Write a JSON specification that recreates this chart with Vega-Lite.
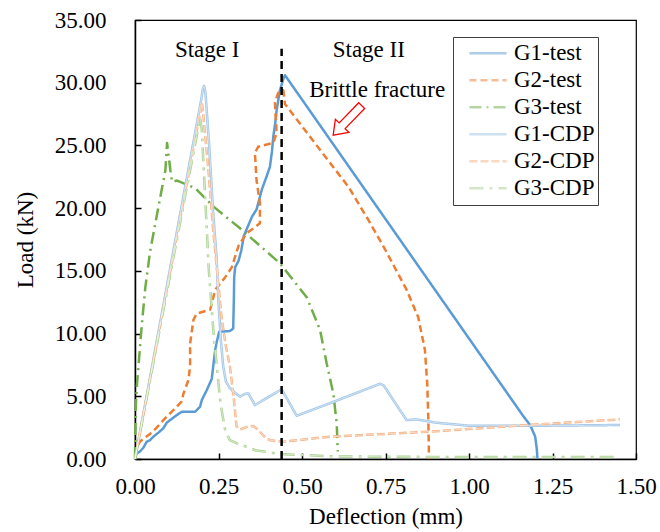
{
 "$schema": "https://vega.github.io/schema/vega-lite/v6.json",
 "width": 501, "height": 439,
 "autosize": {"type": "none"},
 "padding": {"left": 135, "top": 20, "right": 24, "bottom": 73},
 "background": "white",
 "config": {
  "font": "Liberation Serif",
  "view": {"stroke": "#000000", "strokeWidth": 1.2},
  "axis": {"labelFont": "Liberation Serif", "labelFontSize": 23, "labelColor": "#000000", "titleFont": "Liberation Serif", "titleFontSize": 23, "titleFontWeight": "normal", "titleColor": "#000000", "grid": false, "domainColor": "#000000", "domainWidth": 1.5, "tickColor": "#000000", "tickWidth": 1.5, "labelOverlap": false, "labelFlush": false},
  "legend": {"labelFont": "Liberation Serif", "labelFontSize": 23, "labelColor": "#000000", "symbolStrokeWidth": 2.5}
 },
 "datasets": {
  "curves": [
   {"s":"G1-test","i":0,"x":0,"y":0},{"s":"G1-test","i":1,"x":0.005,"y":0.45},{"s":"G1-test","i":2,"x":0.015,"y":0.6},{"s":"G1-test","i":3,"x":0.025,"y":0.9},{"s":"G1-test","i":4,"x":0.035,"y":1.38},{"s":"G1-test","i":5,"x":0.045,"y":1.5},{"s":"G1-test","i":6,"x":0.055,"y":1.78},{"s":"G1-test","i":7,"x":0.07,"y":2.1},{"s":"G1-test","i":8,"x":0.085,"y":2.45},{"s":"G1-test","i":9,"x":0.095,"y":2.9},{"s":"G1-test","i":10,"x":0.105,"y":3.1},{"s":"G1-test","i":11,"x":0.115,"y":3.3},{"s":"G1-test","i":12,"x":0.125,"y":3.5},{"s":"G1-test","i":13,"x":0.14,"y":3.77},{"s":"G1-test","i":14,"x":0.18,"y":3.77},{"s":"G1-test","i":15,"x":0.195,"y":4.17},{"s":"G1-test","i":16,"x":0.2,"y":4.7},{"s":"G1-test","i":17,"x":0.215,"y":5.5},{"s":"G1-test","i":18,"x":0.23,"y":6.4},{"s":"G1-test","i":19,"x":0.234,"y":7.36},{"s":"G1-test","i":20,"x":0.24,"y":8.7},{"s":"G1-test","i":21,"x":0.245,"y":9.35},{"s":"G1-test","i":22,"x":0.252,"y":10.15},{"s":"G1-test","i":23,"x":0.284,"y":10.2},{"s":"G1-test","i":24,"x":0.294,"y":10.4},{"s":"G1-test","i":25,"x":0.296,"y":12.7},{"s":"G1-test","i":26,"x":0.297,"y":14.5},{"s":"G1-test","i":27,"x":0.3,"y":15.3},{"s":"G1-test","i":28,"x":0.31,"y":15.8},{"s":"G1-test","i":29,"x":0.318,"y":16.6},{"s":"G1-test","i":30,"x":0.326,"y":17.8},{"s":"G1-test","i":31,"x":0.334,"y":18.3},{"s":"G1-test","i":32,"x":0.35,"y":19.3},{"s":"G1-test","i":33,"x":0.364,"y":19.9},{"s":"G1-test","i":34,"x":0.38,"y":21.5},{"s":"G1-test","i":35,"x":0.395,"y":22.6},{"s":"G1-test","i":36,"x":0.404,"y":23.3},{"s":"G1-test","i":37,"x":0.41,"y":24.5},{"s":"G1-test","i":38,"x":0.414,"y":25.7},{"s":"G1-test","i":39,"x":0.42,"y":26.8},{"s":"G1-test","i":40,"x":0.424,"y":27.8},{"s":"G1-test","i":41,"x":0.434,"y":29.4},{"s":"G1-test","i":42,"x":0.444,"y":30.3},{"s":"G1-test","i":43,"x":0.449,"y":30.6},{"s":"G1-test","i":44,"x":1.163,"y":3.4},{"s":"G1-test","i":45,"x":1.183,"y":2.7},{"s":"G1-test","i":46,"x":1.198,"y":1.8},{"s":"G1-test","i":47,"x":1.203,"y":0.8},{"s":"G1-test","i":48,"x":1.205,"y":0},
   {"s":"G2-test","i":0,"x":0,"y":0.3},{"s":"G2-test","i":1,"x":0.005,"y":0.9},{"s":"G2-test","i":2,"x":0.015,"y":1.4},{"s":"G2-test","i":3,"x":0.03,"y":1.7},{"s":"G2-test","i":4,"x":0.045,"y":2.0},{"s":"G2-test","i":5,"x":0.065,"y":2.5},{"s":"G2-test","i":6,"x":0.085,"y":3.1},{"s":"G2-test","i":7,"x":0.1,"y":3.5},{"s":"G2-test","i":8,"x":0.115,"y":3.9},{"s":"G2-test","i":9,"x":0.14,"y":4.6},{"s":"G2-test","i":10,"x":0.145,"y":5.2},{"s":"G2-test","i":11,"x":0.16,"y":6.3},{"s":"G2-test","i":12,"x":0.165,"y":7.4},{"s":"G2-test","i":13,"x":0.165,"y":9.2},{"s":"G2-test","i":14,"x":0.175,"y":11.1},{"s":"G2-test","i":15,"x":0.185,"y":11.6},{"s":"G2-test","i":16,"x":0.225,"y":11.9},{"s":"G2-test","i":17,"x":0.23,"y":12.4},{"s":"G2-test","i":18,"x":0.24,"y":13.5},{"s":"G2-test","i":19,"x":0.256,"y":14.0},{"s":"G2-test","i":20,"x":0.27,"y":14.5},{"s":"G2-test","i":21,"x":0.29,"y":15.3},{"s":"G2-test","i":22,"x":0.31,"y":17.0},{"s":"G2-test","i":23,"x":0.334,"y":18.0},{"s":"G2-test","i":24,"x":0.36,"y":18.5},{"s":"G2-test","i":25,"x":0.374,"y":18.8},{"s":"G2-test","i":26,"x":0.374,"y":20.4},{"s":"G2-test","i":27,"x":0.364,"y":22.2},{"s":"G2-test","i":28,"x":0.359,"y":24.4},{"s":"G2-test","i":29,"x":0.369,"y":24.9},{"s":"G2-test","i":30,"x":0.414,"y":25.2},{"s":"G2-test","i":31,"x":0.424,"y":26.0},{"s":"G2-test","i":32,"x":0.419,"y":28.4},{"s":"G2-test","i":33,"x":0.429,"y":29.2},{"s":"G2-test","i":34,"x":0.444,"y":29.4},{"s":"G2-test","i":35,"x":0.449,"y":28.3},{"s":"G2-test","i":36,"x":0.639,"y":21.7},{"s":"G2-test","i":37,"x":0.7,"y":19.0},{"s":"G2-test","i":38,"x":0.749,"y":16.7},{"s":"G2-test","i":39,"x":0.813,"y":13.5},{"s":"G2-test","i":40,"x":0.848,"y":11.3},{"s":"G2-test","i":41,"x":0.868,"y":8.7},{"s":"G2-test","i":42,"x":0.875,"y":6.0},{"s":"G2-test","i":43,"x":0.878,"y":3.4},{"s":"G2-test","i":44,"x":0.88,"y":0.45},{"s":"G2-test","i":45,"x":0.882,"y":0},
   {"s":"G3-test","i":0,"x":0,"y":0},{"s":"G3-test","i":1,"x":0.002,"y":4.0},{"s":"G3-test","i":2,"x":0.006,"y":6.0},{"s":"G3-test","i":3,"x":0.011,"y":7.6},{"s":"G3-test","i":4,"x":0.02,"y":10.6},{"s":"G3-test","i":5,"x":0.031,"y":13.7},{"s":"G3-test","i":6,"x":0.045,"y":16.5},{"s":"G3-test","i":7,"x":0.061,"y":18.8},{"s":"G3-test","i":8,"x":0.078,"y":21.2},{"s":"G3-test","i":9,"x":0.091,"y":23.0},{"s":"G3-test","i":10,"x":0.096,"y":25.2},{"s":"G3-test","i":11,"x":0.101,"y":24.1},{"s":"G3-test","i":12,"x":0.106,"y":23.0},{"s":"G3-test","i":13,"x":0.111,"y":22.1},{"s":"G3-test","i":14,"x":0.126,"y":22.2},{"s":"G3-test","i":15,"x":0.18,"y":21.6},{"s":"G3-test","i":16,"x":0.236,"y":20.1},{"s":"G3-test","i":17,"x":0.284,"y":19.05},{"s":"G3-test","i":18,"x":0.31,"y":18.5},{"s":"G3-test","i":19,"x":0.434,"y":15.6},{"s":"G3-test","i":20,"x":0.514,"y":12.9},{"s":"G3-test","i":21,"x":0.554,"y":10.3},{"s":"G3-test","i":22,"x":0.574,"y":7.6},{"s":"G3-test","i":23,"x":0.594,"y":5.2},{"s":"G3-test","i":24,"x":0.604,"y":2.8},{"s":"G3-test","i":25,"x":0.607,"y":0.6},
   {"s":"G1-CDP","i":0,"x":0,"y":0},{"s":"G1-CDP","i":1,"x":0.198,"y":28.6},{"s":"G1-CDP","i":2,"x":0.203,"y":29.5},{"s":"G1-CDP","i":3,"x":0.207,"y":29.75},{"s":"G1-CDP","i":4,"x":0.211,"y":29.2},{"s":"G1-CDP","i":5,"x":0.222,"y":25.0},{"s":"G1-CDP","i":6,"x":0.2335,"y":19.8},{"s":"G1-CDP","i":7,"x":0.2445,"y":16.0},{"s":"G1-CDP","i":8,"x":0.2495,"y":12.7},{"s":"G1-CDP","i":9,"x":0.257,"y":9.5},{"s":"G1-CDP","i":10,"x":0.264,"y":7.4},{"s":"G1-CDP","i":11,"x":0.272,"y":6.2},{"s":"G1-CDP","i":12,"x":0.284,"y":5.64},{"s":"G1-CDP","i":13,"x":0.314,"y":4.97},{"s":"G1-CDP","i":14,"x":0.33,"y":5.2},{"s":"G1-CDP","i":15,"x":0.339,"y":5.25},{"s":"G1-CDP","i":16,"x":0.359,"y":4.3},{"s":"G1-CDP","i":17,"x":0.439,"y":5.56},{"s":"G1-CDP","i":18,"x":0.484,"y":3.45},{"s":"G1-CDP","i":19,"x":0.584,"y":4.45},{"s":"G1-CDP","i":20,"x":0.734,"y":6.0},{"s":"G1-CDP","i":21,"x":0.745,"y":5.85},{"s":"G1-CDP","i":22,"x":0.813,"y":3.1},{"s":"G1-CDP","i":23,"x":0.843,"y":3.16},{"s":"G1-CDP","i":24,"x":0.9,"y":2.9},{"s":"G1-CDP","i":25,"x":1.0,"y":2.65},{"s":"G1-CDP","i":26,"x":1.2,"y":2.65},{"s":"G1-CDP","i":27,"x":1.452,"y":2.71},
   {"s":"G2-CDP","i":0,"x":0,"y":0},{"s":"G2-CDP","i":1,"x":0.2006,"y":28.4},{"s":"G2-CDP","i":2,"x":0.205,"y":27.3},{"s":"G2-CDP","i":3,"x":0.22,"y":23.0},{"s":"G2-CDP","i":4,"x":0.235,"y":18.0},{"s":"G2-CDP","i":5,"x":0.255,"y":12.4},{"s":"G2-CDP","i":6,"x":0.26,"y":11.1},{"s":"G2-CDP","i":7,"x":0.272,"y":9.0},{"s":"G2-CDP","i":8,"x":0.284,"y":7.4},{"s":"G2-CDP","i":9,"x":0.295,"y":5.0},{"s":"G2-CDP","i":10,"x":0.304,"y":2.6},{"s":"G2-CDP","i":11,"x":0.315,"y":2.35},{"s":"G2-CDP","i":12,"x":0.34,"y":2.6},{"s":"G2-CDP","i":13,"x":0.354,"y":2.63},{"s":"G2-CDP","i":14,"x":0.37,"y":2.3},{"s":"G2-CDP","i":15,"x":0.39,"y":1.7},{"s":"G2-CDP","i":16,"x":0.404,"y":1.5},{"s":"G2-CDP","i":17,"x":0.444,"y":1.38},{"s":"G2-CDP","i":18,"x":0.584,"y":1.78},{"s":"G2-CDP","i":19,"x":0.883,"y":2.18},{"s":"G2-CDP","i":20,"x":1.0,"y":2.4},{"s":"G2-CDP","i":21,"x":1.2,"y":2.75},{"s":"G2-CDP","i":22,"x":1.452,"y":3.16},
   {"s":"G3-CDP","i":0,"x":0,"y":0},{"s":"G3-CDP","i":1,"x":0.195,"y":27.2},{"s":"G3-CDP","i":2,"x":0.2,"y":26.3},{"s":"G3-CDP","i":3,"x":0.206,"y":23.0},{"s":"G3-CDP","i":4,"x":0.221,"y":15.1},{"s":"G3-CDP","i":5,"x":0.236,"y":9.75},{"s":"G3-CDP","i":6,"x":0.256,"y":4.4},{"s":"G3-CDP","i":7,"x":0.27,"y":2.3},{"s":"G3-CDP","i":8,"x":0.284,"y":1.5},{"s":"G3-CDP","i":9,"x":0.31,"y":1.2},{"s":"G3-CDP","i":10,"x":0.334,"y":0.98},{"s":"G3-CDP","i":11,"x":0.36,"y":0.7},{"s":"G3-CDP","i":12,"x":0.434,"y":0.4},{"s":"G3-CDP","i":13,"x":0.6,"y":0.2},{"s":"G3-CDP","i":14,"x":1.0,"y":0.15},{"s":"G3-CDP","i":15,"x":1.45,"y":0.15}
  ],
  "notes": [
   {"t":"Stage I","x":0.216,"y":32.6},
   {"t":"Stage II","x":0.700,"y":32.6},
   {"t":"Brittle fracture","x":0.725,"y":29.4}
  ],
  "stage": [{"x":0.439,"y":0,"y2":32.7}],
  "arrow": [{"x":0.636,"y":27.0}]
 },
 "layer": [
  {
   "data": {"name": "curves"},
   "mark": {"type": "line", "strokeJoin": "round", "strokeCap": "butt"},
   "encoding": {
    "x": {"field": "x", "type": "quantitative", "scale": {"domain": [0, 1.5], "nice": false, "zero": false},
          "axis": {"title": "Deflection (mm)", "values": [0, 0.25, 0.5, 0.75, 1, 1.25, 1.5], "format": ".2f", "tickSize": -6, "labelPadding": 22, "titlePadding": 7}},
    "y": {"field": "y", "type": "quantitative", "scale": {"domain": [0, 35], "nice": false},
          "axis": {"title": "Load (kN)", "values": [0, 2.5, 5, 7.5, 10, 12.5, 15, 17.5, 20, 22.5, 25, 27.5, 30, 32.5, 35], "labelExpr": "datum.value % 5 === 0 ? format(datum.value, '.2f') : ''", "tickSize": -6, "labelPadding": 35, "titlePadding": 17}},
    "order": {"field": "i", "type": "quantitative"},
    "color": {"field": "s", "type": "nominal",
              "scale": {"domain": ["G1-test", "G2-test", "G3-test", "G1-CDP", "G2-CDP", "G3-CDP"], "range": ["#5B9BD5", "#ED7D31", "#70AD47", "#9DC3E6", "#F4B183", "#A9D18E"]},
              "legend": {"title": null, "orient": "none", "legendX": 318, "legendY": 17, "padding": 3, "symbolOffset": 12, "symbolType": "stroke", "symbolSize": 1369, "labelOffset": 6, "clipHeight": 26.5, "rowPadding": 0, "fillColor": "#ffffff", "strokeColor": "#404040"}},
    "strokeDash": {"field": "s", "type": "nominal",
              "scale": {"domain": ["G1-test", "G2-test", "G3-test", "G1-CDP", "G2-CDP", "G3-CDP"], "range": [[1, 0], [7, 4], [12, 5, 2, 5], [1, 0], [8, 3], [14, 6, 3, 6]]},
              "legend": {"title": null, "orient": "none", "legendX": 318, "legendY": 17, "padding": 3, "symbolOffset": 12, "symbolType": "stroke", "symbolSize": 1369, "labelOffset": 6, "clipHeight": 26.5, "rowPadding": 0, "fillColor": "#ffffff", "strokeColor": "#404040"}},
    "strokeWidth": {"field": "s", "type": "nominal",
              "scale": {"domain": ["G1-test", "G2-test", "G3-test", "G1-CDP", "G2-CDP", "G3-CDP"], "range": [2.5, 2.5, 2.5, 4, 3.5, 3.5]},
              "legend": null}
   }
  },
  {
   "data": {"name": "curves"},
   "transform": [{"filter": "indexof(datum.s, 'CDP') >= 0"}],
   "mark": {"type": "line", "color": "#ffffff", "opacity": 0.5, "strokeWidth": 1.1, "strokeJoin": "round"},
   "encoding": {
    "x": {"field": "x", "type": "quantitative"},
    "y": {"field": "y", "type": "quantitative"},
    "order": {"field": "i", "type": "quantitative"},
    "detail": {"field": "s", "type": "nominal"},
    "strokeDash": {"field": "s", "type": "nominal"}
   }
  },
  {
   "data": {"name": "stage"},
   "mark": {"type": "rule", "color": "#000000", "strokeWidth": 2.5, "strokeDash": [8, 5]},
   "encoding": {
    "x": {"field": "x", "type": "quantitative"},
    "y": {"field": "y", "type": "quantitative"},
    "y2": {"field": "y2"}
   }
  },
  {
   "data": {"name": "notes"},
   "mark": {"type": "text", "font": "Liberation Serif", "fontSize": 23, "color": "#000000", "align": "center", "baseline": "middle"},
   "encoding": {
    "x": {"field": "x", "type": "quantitative"},
    "y": {"field": "y", "type": "quantitative"},
    "text": {"field": "t", "type": "nominal"}
   }
  },
  {
   "data": {"name": "arrow"},
   "mark": {"type": "point", "shape": "M-1,0L-0.37,-0.46L-0.37,-0.2L1,-0.2L1,0.2L-0.37,0.2L-0.37,0.46Z", "size": 1681, "angle": 314, "fill": "#ffffff", "fillOpacity": 1, "stroke": "#FF0000", "strokeWidth": 1.3, "opacity": 1},
   "encoding": {
    "x": {"field": "x", "type": "quantitative"},
    "y": {"field": "y", "type": "quantitative"}
   }
  }
 ]
}
